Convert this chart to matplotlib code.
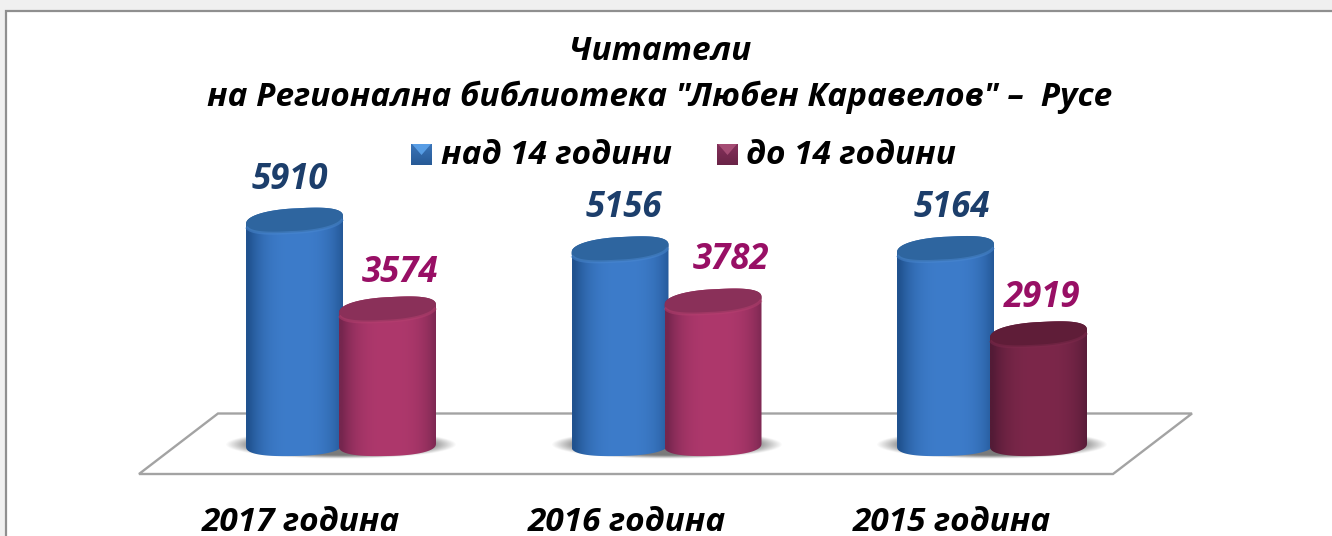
import numpy as np
import matplotlib
matplotlib.use("Agg")
import matplotlib.pyplot as plt
from matplotlib.patches import Rectangle, PathPatch, Polygon
from matplotlib.path import Path

categories = ["2017 година", "2016 година", "2015 година"]
series_names = ["над 14 години", "до 14 години"]
over_14 = [5910, 5156, 5164]
under_14 = [3574, 3782, 2919]
title_lines = ["Читатели", "на Регионална библиотека \"Любен Каравелов\" –  Русе"]

BLUE = ("#20528f", "#3d7cca", "#2e659f", "#4a88d0")
RED = ("#75264e", "#ae386c", "#8a3059", "#b5406f")
DARK = ("#531b36", "#7c274a", "#5f1d38", "#7e2a4c")
SWATCH_BLUE = ("#275a96", "#3a74b8", "#5aa0e8")
SWATCH_RED = ("#6a2447", "#84305a", "#a84e76")

W, H = 1332, 536
plt.rcParams["font.family"] = ["Open Sans", "DejaVu Sans"]

PX_PER_CAT = 325.5
PX_PER_VAL = 0.038
X0_PX, BASE_PX, AX_BOTTOM_PX = 341.0, 445.0, 500.0

fig = plt.figure(figsize=(W / 100, H / 100), dpi=100, facecolor="#f0f0f0")
fig.add_artist(Rectangle((6 / W, -0.01), 1.1, (H - 11) / H + 0.01, transform=fig.transFigure,
                         facecolor="white", edgecolor="#8f8f8f", linewidth=1.6, zorder=-5))

ax = fig.add_axes([0, (H - AX_BOTTOM_PX) / H, 1, AX_BOTTOM_PX / H])
ax.patch.set_alpha(0)
xlim = (-X0_PX / PX_PER_CAT, (W - X0_PX) / PX_PER_CAT)
ylim = ((BASE_PX - AX_BOTTOM_PX) / PX_PER_VAL, BASE_PX / PX_PER_VAL)
dx = 1 / PX_PER_CAT
dy = 1 / PX_PER_VAL
for s in ax.spines.values():
    s.set_visible(False)
ax.set_yticks([])


def px(x, y):
    return (x - X0_PX) * dx, (BASE_PX - y) * dy


ax.add_patch(Polygon([px(139, 474), px(218, 413.5), px(1192, 413.5), px(1113, 474)], closed=True,
                     facecolor="white", edgecolor="#a3a3a3", linewidth=1.7, zorder=1, clip_on=False))


def rgb(h):
    return np.array(matplotlib.colors.to_rgb(h))


def spow(v, p=0.82):
    return np.sign(v) * np.abs(v) ** p


def shadow(xc):
    n = 200
    xs, ys = np.meshgrid(np.linspace(-1, 1, n), np.linspace(-1, 1, 50))
    r = np.sqrt(xs ** 2 + ys ** 2)
    a = np.clip((1 - r) / 0.25, 0, 1)
    img = np.zeros((50, n, 4))
    img[..., :3] = 0.42
    img[..., 3] = 0.9 * a
    ax.imshow(img, extent=(xc - 116 * dx, xc + 116 * dx, -14 * dy, 15 * dy), aspect="auto",
              zorder=2, interpolation="bilinear")


def cylinder(xc, value, pal, z):
    a, b_top, s_top, b_bot, s_bot = 48.5, 12.0, 4.0, 11.0, 1.5
    t1 = np.linspace(0, np.pi, 60)
    t2 = np.linspace(np.pi, 2 * np.pi, 60)
    body_x = np.r_[xc + a * dx * spow(np.cos(t1)), xc + a * dx * spow(np.cos(t2))]
    body_y = np.r_[value + (b_top * spow(np.sin(t1)) + s_top * np.cos(t1)) * dy,
                   (b_bot * spow(np.sin(t2)) + s_bot * np.cos(t2)) * dy]
    clip = PathPatch(Path(np.c_[body_x, body_y]), transform=ax.transData, facecolor="none", edgecolor="none")
    ax.add_patch(clip)
    u = np.linspace(-1, 1, 200)
    w = np.clip(1 - np.abs(u - 0.05) ** 3, 0, 1)[:, None]
    grad = (rgb(pal[0]) * (1 - w) + rgb(pal[1]) * w)[None, :, :]
    im = ax.imshow(grad, extent=(xc - a * dx, xc + a * dx, -13 * dy, value + 14 * dy), aspect="auto",
                   zorder=z, interpolation="bilinear")
    im.set_clip_path(clip)
    t = np.linspace(0, 2 * np.pi, 120)
    ex = xc + a * dx * spow(np.cos(t))
    ey = value + (b_top * spow(np.sin(t)) + s_top * np.cos(t)) * dy
    ax.fill(ex, ey, color=pal[2], zorder=z + 0.1, lw=0)
    t3 = np.linspace(np.pi * 1.08, np.pi * 1.92, 50)
    ax.plot(xc + a * dx * spow(np.cos(t3)), value + (b_top * spow(np.sin(t3)) + s_top * np.cos(t3)) * dy,
            color=pal[3], lw=2.2, alpha=0.5, zorder=z + 0.2)


off = 46.5 * dx
label_style = dict(ha="center", va="center", fontsize=25, fontweight="bold", fontstyle="italic",
                   clip_on=False, zorder=10)
over_label_shift = [(-5, 40), (4, 41), (6, 41)]
under_label_shift = [(13, 36), (18, 41), (4, 36)]
for i, (v1, v2) in enumerate(zip(over_14, under_14)):
    shadow(i)
    cylinder(i - off, v1, BLUE, 3)
    cylinder(i + off, v2, DARK if i == 2 else RED, 4)
    sx, sy = over_label_shift[i]
    ax.text(i - off + sx * dx, v1 + sy * dy, str(v1), color="#1c3e6b", **label_style)
    sx, sy = under_label_shift[i]
    ax.text(i + off + sx * dx, v2 + sy * dy, str(v2), color="#980f65", **label_style)

ax.set_xlim(xlim)
ax.set_ylim(ylim)
ax.set_xticks(np.arange(len(categories)) - 40 * dx, categories)
ax.tick_params(axis="x", length=0, pad=4)
for lab in ax.get_xticklabels():
    lab.set_fontsize(24)
    lab.set_fontweight("bold")
    lab.set_fontstyle("italic")
    lab.set_color("black")

tstyle = dict(ha="center", va="center", fontsize=24, fontweight="bold", fontstyle="italic",
              color="black", transform=fig.transFigure)
fig.text(660 / W, 1 - 51 / H, title_lines[0], **tstyle)
fig.text(660 / W, 1 - 97 / H, title_lines[1], **tstyle)


def swatch(x0, pal):
    xa, ya = px(x0, 165)
    xb, yb = px(x0 + 21, 144)
    g = np.linspace(0, 1, 40)[:, None, None]
    img = rgb(pal[1]) * (1 - g) + rgb(pal[0]) * g
    ax.imshow(img, extent=(xa, xb, ya, yb), aspect="auto", zorder=9)
    ax.add_patch(Polygon([px(x0 + 1, 144), px(x0 + 20, 144), px(x0 + 10.5, 155)], closed=True,
                         facecolor=pal[2], edgecolor="none", zorder=9.5, alpha=0.95))


legend_style = dict(ha="left", va="center", fontsize=24, fontweight="bold", fontstyle="italic",
                    color="black", transform=fig.transFigure)
swatch(411, SWATCH_BLUE)
fig.text(441 / W, 1 - 155 / H, series_names[0], **legend_style)
swatch(717, SWATCH_RED)
fig.text(746 / W, 1 - 155 / H, series_names[1], **legend_style)

ax.set_xlim(xlim)
ax.set_ylim(ylim)
fig.savefig("out.png", dpi=100, facecolor=fig.get_facecolor())
